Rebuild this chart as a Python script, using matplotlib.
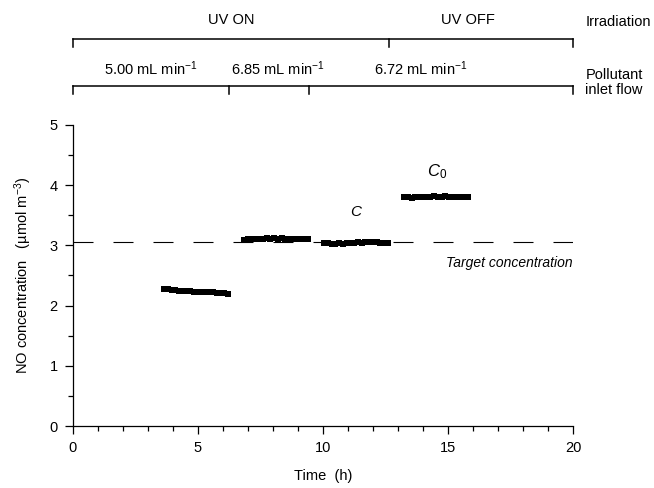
import matplotlib.pyplot as plt
import matplotlib.transforms as mtransforms
from matplotlib.ticker import MultipleLocator

plt.rcParams['font.family'] = ['Liberation Sans', 'DejaVu Sans']
plt.rcParams['mathtext.fontset'] = 'custom'
plt.rcParams['mathtext.rm'] = 'Liberation Sans'
plt.rcParams['mathtext.it'] = 'Liberation Sans:italic'
plt.rcParams['font.size'] = 10.5

# NO concentration readings (h, umol m-3), one list per period
t_on_500 = [3.65, 3.8, 3.95, 4.1, 4.25, 4.4, 4.55, 4.7, 4.85, 5.0, 5.15, 5.3,
            5.45, 5.6, 5.75, 5.9, 6.05, 6.2]
c_on_500 = [2.27, 2.27, 2.26, 2.26, 2.25, 2.25, 2.24, 2.24, 2.23, 2.23, 2.23,
            2.22, 2.22, 2.22, 2.21, 2.21, 2.21, 2.20]

t_on_685 = [6.85, 7.0, 7.15, 7.3, 7.45, 7.6, 7.75, 7.9, 8.05, 8.2, 8.35, 8.5,
            8.65, 8.8, 8.95, 9.1, 9.25, 9.4]
c_on_685 = [3.09, 3.10, 3.10, 3.11, 3.10, 3.11, 3.12, 3.11, 3.12, 3.11, 3.12,
            3.11, 3.10, 3.11, 3.11, 3.10, 3.11, 3.10]

t_on_672 = [10.05, 10.2, 10.35, 10.5, 10.65, 10.8, 10.95, 11.1, 11.25, 11.4,
            11.55, 11.7, 11.85, 12.0, 12.15, 12.3, 12.45, 12.6]
c_on_672 = [3.04, 3.04, 3.03, 3.03, 3.04, 3.03, 3.04, 3.04, 3.04, 3.05, 3.04,
            3.05, 3.05, 3.06, 3.05, 3.04, 3.04, 3.04]

t_off_672 = [13.25, 13.4, 13.55, 13.7, 13.85, 14.0, 14.15, 14.3, 14.45, 14.6,
             14.75, 14.9, 15.05, 15.2, 15.35, 15.5, 15.65, 15.8]
c_off_672 = [3.80, 3.80, 3.79, 3.80, 3.80, 3.81, 3.81, 3.80, 3.82, 3.81, 3.81,
             3.82, 3.81, 3.80, 3.81, 3.81, 3.80, 3.80]

target = 3.05

# bracket boundaries (h)
irr_edges = [0, 12.64, 20]
irr_labels = ["UV ON", "UV OFF"]
irr_label_x = [6.35, 15.8]
flow_edges = [0, 6.24, 9.44, 20]
flow_labels = ["5.00 mL min$^{-1}$", "6.85 mL min$^{-1}$", "6.72 mL min$^{-1}$"]
flow_label_x = [3.1, 8.2, 13.9]

fig = plt.figure(figsize=(6.54, 4.88), dpi=100)
ax = fig.add_axes([0.1116, 0.127, 0.7645, 0.617])

for t, c in [(t_on_500, c_on_500), (t_on_685, c_on_685),
             (t_on_672, c_on_672), (t_off_672, c_off_672)]:
    ax.plot(t, c, ls='none', marker='s', ms=4.6, color='black', mew=0)

ax.axhline(target, color='black', lw=0.8, dashes=(18, 18))
ax.text(20, target - 0.35, "Target concentration", ha='right', va='center',
        style='italic', fontsize=10)
ax.text(11.35, 3.55, "$C$", ha='center', va='center', fontsize=11)
ax.text(14.55, 4.22, r"$C_{\mathit{0}}$", ha='center', va='center', fontsize=12)

ax.set_xlim(0, 20)
ax.set_ylim(0, 5)
ax.xaxis.set_major_locator(MultipleLocator(5))
ax.xaxis.set_minor_locator(MultipleLocator(1))
ax.yaxis.set_major_locator(MultipleLocator(1))
ax.yaxis.set_minor_locator(MultipleLocator(0.5))
ax.tick_params(which='major', direction='out', length=6, width=0.9, pad=5)
ax.tick_params(which='minor', direction='out', length=3.5, width=0.9)
for s in ['top', 'right']:
    ax.spines[s].set_visible(False)
for s in ['left', 'bottom']:
    ax.spines[s].set_linewidth(0.9)
ax.set_xlabel("Time  (h)", labelpad=10)
ax.set_ylabel("NO concentration   (µmol m$^{-3}$)", labelpad=11)

# brackets above the plot: x in data, y in figure units
trans = mtransforms.blended_transform_factory(ax.transData, fig.transFigure)


def bracket(edges, y, drop):
    ax.plot([edges[0], edges[-1]], [y, y], color='black', lw=1.1,
            transform=trans, clip_on=False)
    for e in edges:
        ax.plot([e, e], [y, y - drop], color='black', lw=1.1,
                transform=trans, clip_on=False)


bracket(irr_edges, 0.920, 0.017)
bracket(flow_edges, 0.824, 0.017)

for lab, x in zip(irr_labels, irr_label_x):
    ax.text(x, 0.958, lab, ha='center', va='center', transform=trans)
for lab, x in zip(flow_labels, flow_label_x):
    ax.text(x, 0.86, lab, ha='center', va='center', transform=trans)

fig.text(0.895, 0.955, "Irradiation", ha='left', va='center')
fig.text(0.895, 0.831, "Pollutant\ninlet flow", ha='left', va='center',
         linespacing=1.1)

fig.savefig("out.png", dpi=100)
